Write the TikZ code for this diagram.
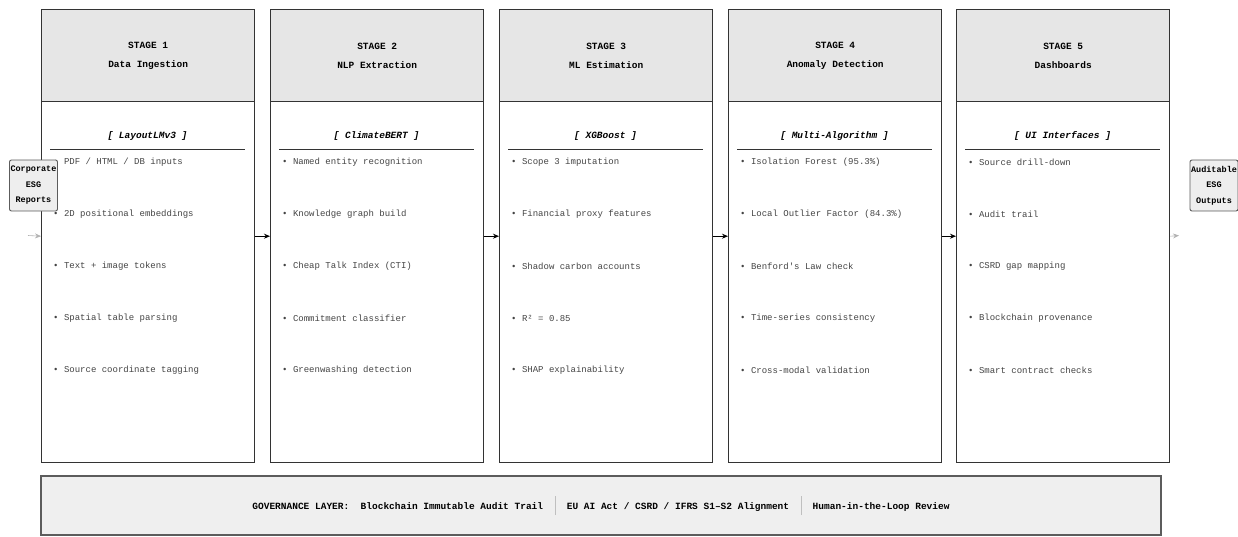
\documentclass[tikz,border=0pt]{standalone}
\usepackage{fontspec}
\setmonofont{Liberation Mono}
\usetikzlibrary{arrows.meta}
\definecolor{hdr}{HTML}{E6E6E6}
\definecolor{edge}{HTML}{333333}
\definecolor{iofill}{HTML}{EEEEEE}
\definecolor{govfill}{HTML}{EFEFEF}
\definecolor{itemtxt}{HTML}{444444}
\newcommand{\govsep}{\ \ {\color{gray!50}\rule[-6pt]{0.8pt}{19pt}}\ \ }
\begin{document}
\begin{tikzpicture}[x=1pt,y=-1pt,font=\ttfamily,
  stagebox/.style={draw=edge,line width=1.4pt,minimum width=213pt,minimum height=453pt,anchor=north west,inner sep=0pt},
  hdrbox/.style={draw=edge,line width=1.4pt,fill=hdr,minimum width=213pt,minimum height=92pt,anchor=north west,align=center,inner sep=0pt,font=\ttfamily\bfseries\fontsize{9.5}{19}\selectfont},
  subtitle/.style={font=\ttfamily\bfseries\itshape\fontsize{9.5}{11}\selectfont,inner sep=0pt},
  item/.style={anchor=west,inner sep=0pt,text=itemtxt,font=\ttfamily\fontsize{9}{11}\selectfont},
  iobox/.style={draw=edge!80,fill=iofill,rounded corners=2pt,line width=0.9pt,minimum width=48pt,minimum height=51pt,align=center,inner sep=0pt,font=\ttfamily\bfseries\fontsize{8.5}{15.5}\selectfont},
  flow/.style={-{Stealth[length=6pt,width=5pt]},line width=1.1pt,black},
  faint/.style={-{Stealth[length=6pt,width=5pt]},line width=0.6pt,gray!60},
  govbox/.style={draw=edge!80,fill=govfill,line width=1.2pt,minimum width=1120pt,minimum height=59pt,inner sep=0pt,font=\ttfamily\bfseries\fontsize{9.5}{11}\selectfont}
]
\useasboundingbox (0,0) rectangle (1238,536);

% stages
\foreach \k/\x/\name/\sub in {1/41/Data Ingestion/LayoutLMv3,2/270/NLP Extraction/ClimateBERT,3/499/ML Estimation/XGBoost,4/728/Anomaly Detection/Multi-Algorithm,5/956/Dashboards/UI Interfaces}{
  \node[stagebox] (s\k) at (\x,9) {};
  \node[hdrbox] (h\k) at (\x,9) {STAGE \k\\\name};
  \node[subtitle] (t\k) at (\x+106.5,136) {[ \sub\ ]};
  \draw[edge,line width=1pt] (\x+9,149) -- (\x+204,149);
}

% items
\foreach \t [count=\j] in {PDF / HTML / DB inputs,2D positional embeddings,Text + image tokens,Spatial table parsing,Source coordinate tagging}
  \node[item] (i1-\j) at (53,110+52*\j) {• \t};
\foreach \t [count=\j] in {Named entity recognition,Knowledge graph build,Cheap Talk Index (CTI),Commitment classifier,Greenwashing detection}
  \node[item] (i2-\j) at (282,110+52*\j) {• \t};
\foreach \t [count=\j] in {Scope 3 imputation,Financial proxy features,Shadow carbon accounts,R² = 0.85,SHAP explainability}
  \node[item] (i3-\j) at (511,110+52*\j) {• \t};
\foreach \t [count=\j] in {Isolation Forest (95.3\%),Local Outlier Factor (84.3\%),Benford's Law check,Time-series consistency,Cross-modal validation}
  \node[item] (i4-\j) at (740,110+52*\j) {• \t};
\foreach \t [count=\j] in {Source drill-down,Audit trail,CSRD gap mapping,Blockchain provenance,Smart contract checks}
  \node[item] (i5-\j) at (968,110+52*\j) {• \t};

% flow arrows
\draw[flow] (s1.east) -- (s2.west);
\draw[flow] (s2.east) -- (s3.west);
\draw[flow] (s3.east) -- (s4.west);
\draw[flow] (s4.east) -- (s5.west);

% inputs / outputs
\node[iobox] (in) at (33.5,185.5) {Corporate\\ESG\\Reports};
\node[iobox] (out) at (1214,185.5) {Auditable\\ESG\\Outputs};
\coordinate (inStart) at (28,235.5);
\coordinate (outEnd) at (1179,235.5);
\draw[faint] (inStart) -- (s1.west);
\draw[faint] (s5.east) -- (outEnd);

% governance
\node[govbox] (gov) at (601,505.5) {GOVERNANCE LAYER:\ \ Blockchain Immutable Audit Trail\govsep EU AI Act / CSRD / IFRS S1–S2 Alignment\govsep Human-in-the-Loop Review};
\end{tikzpicture}
\end{document}
